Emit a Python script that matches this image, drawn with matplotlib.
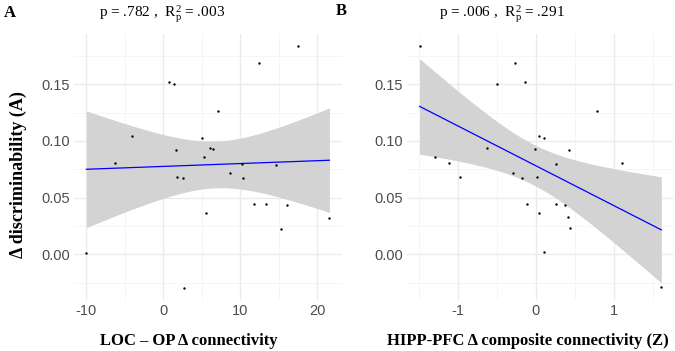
import numpy as np
import matplotlib
matplotlib.use("Agg")
import matplotlib.pyplot as plt

plt.rcParams['mathtext.fontset'] = 'custom'
plt.rcParams['mathtext.rm'] = 'Liberation Serif'
plt.rcParams['mathtext.it'] = 'Liberation Serif:italic'

# Shared outcome: change in discriminability (A)
disc = [0.184, 0.1686, 0.152, 0.150, 0.1267, 0.104, 0.1026, 0.0923, 0.0935, 0.0929,
        0.0856, 0.0803, 0.080, 0.079, 0.0718, 0.068, 0.0673, 0.067, 0.0362, 0.0444,
        0.0447, 0.0438, 0.0226, 0.0323, 0.0014, -0.0295]

# Panel A predictor: LOC - OP change in connectivity
loc_op = [17.55, 12.4, 0.78, 1.43, 7.1, -4.03, 5.03, 1.65, 6.11, 6.42,
          5.33, -6.32, 10.23, 14.7, 8.63, 1.82, 2.6, 10.3, 5.55, 11.83,
          13.4, 16.1, 15.3, 21.6, -10.0, 2.7]
disc_a = disc

# Panel B predictor: HIPP-PFC composite connectivity (Z), with its own y values
hipp_pfc = [-1.49, -0.26, -0.137, -0.5, 0.786, 0.042, 0.106, -0.62, -0.013, 0.43,
            -1.287, -1.108, 0.26, 1.106, -0.29, -0.97, -0.18, 0.013, -0.108, 0.26,
            0.376, 0.042, 0.42, 0.44, 0.11, 1.61]
disc_b = [0.184, 0.1686, 0.152, 0.150, 0.1267, 0.104, 0.1026, 0.0935, 0.093, 0.0923,
          0.0856, 0.0803, 0.080, 0.0803, 0.072, 0.068, 0.0673, 0.068, 0.0447, 0.0447,
          0.0438, 0.0366, 0.0326, 0.0232, 0.002, -0.029]

titles = ["p = .782 ,  $\\mathrm{R}^{2}_{\\mathrm{p}}$ = .003",
          "p = .006 ,  $\\mathrm{R}^{2}_{\\mathrm{p}}$ = .291"]
xlabels = ["LOC \u2013 OP \u0394 connectivity", "HIPP-PFC \u0394 composite connectivity (Z)"]
ylabel = "\u0394 discriminability (A)"
panel_letters = ["A", "B"]
xticks_a = [-10, 0, 10, 20]
xticks_b = [-1, 0, 1]
yticks = [0.00, 0.05, 0.10, 0.15]
ytick_labels = ["0.00", "0.05", "0.10", "0.15"]

T_CRIT = 2.0639  # t(0.975, df=24)

W, H = 675, 351
fig = plt.figure(figsize=(W / 100, H / 100), dpi=100)

def fit_band(x, y):
    x = np.asarray(x, float); y = np.asarray(y, float)
    n = len(x)
    b1, b0 = np.polyfit(x, y, 1)
    res = y - (b0 + b1 * x)
    s = np.sqrt(np.sum(res ** 2) / (n - 2))
    xs = np.linspace(x.min(), x.max(), 80)
    yh = b0 + b1 * xs
    se = s * np.sqrt(1 / n + (xs - x.mean()) ** 2 / np.sum((x - x.mean()) ** 2))
    return xs, yh, yh - T_CRIT * se, yh + T_CRIT * se

def make_panel(rect, x, y, xticks, xminor):
    ax = fig.add_axes(rect)
    x = np.asarray(x); y = np.asarray(y)
    xr = x.max() - x.min(); yr = max(disc) - min(disc)
    ax.set_xlim(x.min() - 0.05 * xr, x.max() + 0.05 * xr)
    ax.set_ylim(min(disc) - 0.05 * yr, max(disc) + 0.05 * yr)
    for v in xminor:
        ax.axvline(v, color='#F2F2F2', lw=0.5, zorder=0)
    for v in [-0.025, 0.025, 0.075, 0.125, 0.175]:
        ax.axhline(v, color='#F2F2F2', lw=0.5, zorder=0)
    for v in xticks:
        ax.axvline(v, color='#EBEBEB', lw=1.0, zorder=0)
    for v in yticks:
        ax.axhline(v, color='#EBEBEB', lw=1.0, zorder=0)
    xs, yh, lo, hi = fit_band(x, y)
    ax.fill_between(xs, lo, hi, color='#D3D3D3', lw=0, zorder=1)
    ax.plot(xs, yh, color='#0000FF', lw=0.9, zorder=2)
    ax.scatter(x, y, s=3, color='black', lw=0, zorder=3)
    ax.set_xticks(xticks)
    ax.set_xticklabels([str(v) for v in xticks])
    ax.set_yticks(yticks)
    ax.set_yticklabels(ytick_labels)
    for sp in ax.spines.values():
        sp.set_visible(False)
    ax.tick_params(length=0, labelsize=10.5, labelcolor='#4D4D4D', pad=3)
    for lab in ax.get_xticklabels() + ax.get_yticklabels():
        lab.set_family('Liberation Sans')
    return ax

axA = make_panel([0.110, 0.1459, 0.396, 0.758], loc_op, disc_a, xticks_a, [-5, 5, 15])
axB = make_panel([0.6036, 0.1459, 0.394, 0.758], hipp_pfc, disc_b, xticks_b, [-1.5, -0.5, 0.5, 1.5])

fig.text(18 / W, 1 - 175 / H, ylabel, rotation=90, ha='center', va='center',
         family='Liberation Serif', weight='bold', fontsize=13)
fig.text(188.5 / W, 1 - 341 / H, xlabels[0], ha='center', va='center',
         family='Liberation Serif', weight='bold', fontsize=12)
fig.text(528 / W, 1 - 341 / H, xlabels[1], ha='center', va='center',
         family='Liberation Serif', weight='bold', fontsize=12)
fig.text(162 / W, 1 - 14 / H, titles[0], ha='center', va='center', family='Liberation Serif', fontsize=11)
fig.text(502 / W, 1 - 14 / H, titles[1], ha='center', va='center', family='Liberation Serif', fontsize=11)
fig.text(4 / W, 1 - 13 / H, panel_letters[0], ha='left', va='center', family='Liberation Serif', weight='bold', fontsize=12)
fig.text(336 / W, 1 - 11 / H, panel_letters[1], ha='left', va='center', family='Liberation Serif', weight='bold', fontsize=12)

fig.savefig("out.png", dpi=100)
